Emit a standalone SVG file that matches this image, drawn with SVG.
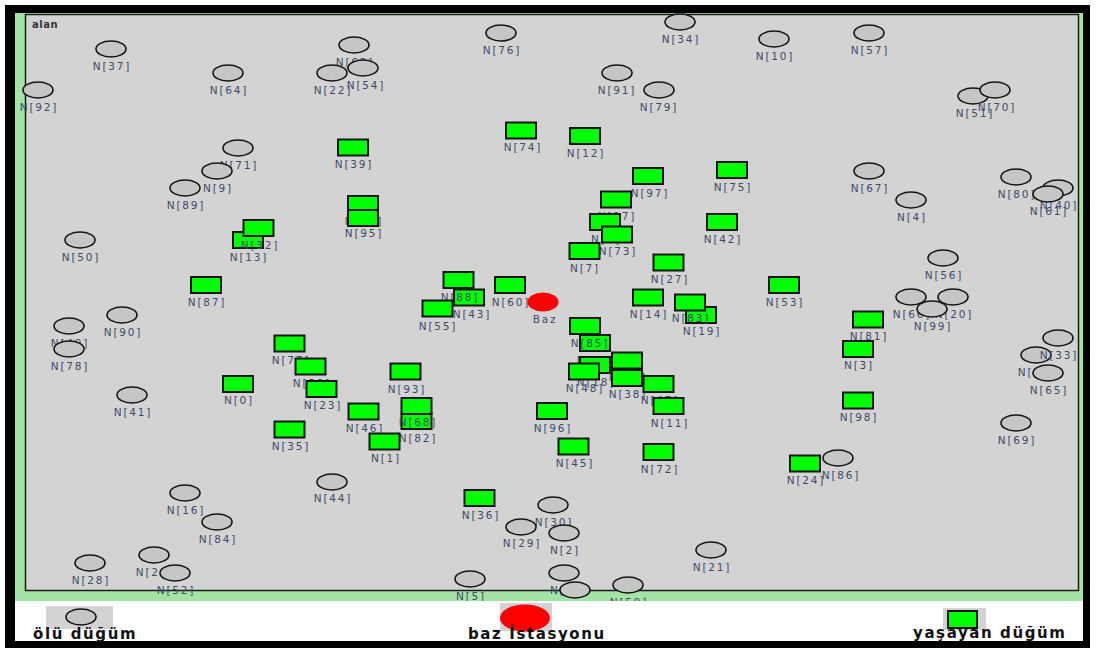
<svg xmlns="http://www.w3.org/2000/svg" width="1096" height="648" viewBox="0 0 1096 648">
<defs>
<style>
.d{fill:#c6c6c6;stroke:#151515;stroke-width:1.6}
.a{fill:#00ff00;stroke:#151515;stroke-width:2}
.t{font-family:"DejaVu Sans",sans-serif;font-size:10.5px;fill:#3e4a66;text-anchor:middle;letter-spacing:1.8px}
.lg{font-family:"DejaVu Sans",sans-serif;font-size:15px;font-weight:bold;fill:#111;letter-spacing:1.6px}
</style>
<clipPath id="field"><rect x="15" y="13" width="1068" height="588"/></clipPath>
</defs>
<rect x="0" y="0" width="1096" height="648" fill="#fff"/>
<rect x="5" y="5" width="1085" height="643" fill="#000"/>
<rect x="15" y="13" width="1068" height="588" fill="#a3e3a3"/>
<rect x="15" y="601" width="1068" height="40" fill="#fff"/>
<rect x="25.5" y="14.5" width="1053" height="576" fill="#d3d3d3" stroke="#1a1a1a" stroke-width="1.5"/>
<text x="32" y="28" font-family="DejaVu Sans, sans-serif" font-size="10" font-weight="bold" fill="#333" letter-spacing="0.5">alan</text>
<g id="connectors"></g>
<g id="nodes" clip-path="url(#field)">
<g id="n37"><ellipse class="d" cx="111" cy="49" rx="15" ry="8"/><text class="t" x="112" y="70">N[37]</text></g>
<g id="n92"><ellipse class="d" cx="38" cy="90" rx="15" ry="8"/><text class="t" x="39" y="111">N[92]</text></g>
<g id="n64"><ellipse class="d" cx="228" cy="73" rx="15" ry="8"/><text class="t" x="229" y="94">N[64]</text></g>
<g id="n71"><ellipse class="d" cx="238" cy="148" rx="15" ry="8"/><text class="t" x="239" y="169">N[71]</text></g>
<g id="n9"><ellipse class="d" cx="217" cy="171" rx="15" ry="8"/><text class="t" x="218" y="192">N[9]</text></g>
<g id="n89"><ellipse class="d" cx="185" cy="188" rx="15" ry="8"/><text class="t" x="186" y="209">N[89]</text></g>
<g id="n62"><ellipse class="d" cx="354" cy="45" rx="15" ry="8"/><text class="t" x="355" y="66">N[62]</text></g>
<g id="n22"><ellipse class="d" cx="332" cy="73" rx="15" ry="8"/><text class="t" x="333" y="94">N[22]</text></g>
<g id="n54"><ellipse class="d" cx="363" cy="68" rx="15" ry="8"/><text class="t" x="366" y="89">N[54]</text></g>
<g id="n76"><ellipse class="d" cx="501" cy="33" rx="15" ry="8"/><text class="t" x="502" y="54">N[76]</text></g>
<g id="n34"><ellipse class="d" cx="680" cy="22" rx="15" ry="8"/><text class="t" x="681" y="43">N[34]</text></g>
<g id="n10"><ellipse class="d" cx="774" cy="39" rx="15" ry="8"/><text class="t" x="775" y="60">N[10]</text></g>
<g id="n91"><ellipse class="d" cx="617" cy="73" rx="15" ry="8"/><text class="t" x="617" y="94">N[91]</text></g>
<g id="n79"><ellipse class="d" cx="659" cy="90" rx="15" ry="8"/><text class="t" x="659" y="111">N[79]</text></g>
<g id="n57"><ellipse class="d" cx="869" cy="33" rx="15" ry="8"/><text class="t" x="870" y="54">N[57]</text></g>
<g id="n51"><ellipse class="d" cx="973" cy="96" rx="15" ry="8"/><text class="t" x="975" y="117">N[51]</text></g>
<g id="n70"><ellipse class="d" cx="995" cy="90" rx="15" ry="8"/><text class="t" x="997" y="111">N[70]</text></g>
<g id="n67"><ellipse class="d" cx="869" cy="171" rx="15" ry="8"/><text class="t" x="870" y="192">N[67]</text></g>
<g id="n80"><ellipse class="d" cx="1016" cy="177" rx="15" ry="8"/><text class="t" x="1017" y="198">N[80]</text></g>
<g id="n40"><ellipse class="d" cx="1058" cy="188" rx="15" ry="8"/><text class="t" x="1059" y="209">N[40]</text></g>
<g id="n61"><ellipse class="d" cx="1048" cy="194" rx="15" ry="8"/><text class="t" x="1049" y="215">N[61]</text></g>
<g id="n4"><ellipse class="d" cx="911" cy="200" rx="15" ry="8"/><text class="t" x="912" y="221">N[4]</text></g>
<g id="n50"><ellipse class="d" cx="80" cy="240" rx="15" ry="8"/><text class="t" x="81" y="261">N[50]</text></g>
<g id="n56"><ellipse class="d" cx="943" cy="258" rx="15" ry="8"/><text class="t" x="944" y="279">N[56]</text></g>
<g id="n66"><ellipse class="d" cx="911" cy="297" rx="15" ry="8"/><text class="t" x="912" y="318">N[66]</text></g>
<g id="n20"><ellipse class="d" cx="953" cy="297" rx="15" ry="8"/><text class="t" x="954" y="318">N[20]</text></g>
<g id="n99"><ellipse class="d" cx="932" cy="309" rx="15" ry="8"/><text class="t" x="933" y="330">N[99]</text></g>
<g id="n90"><ellipse class="d" cx="122" cy="315" rx="15" ry="8"/><text class="t" x="123" y="336">N[90]</text></g>
<g id="n49"><ellipse class="d" cx="69" cy="326" rx="15" ry="8"/><text class="t" x="70" y="347">N[49]</text></g>
<g id="n78"><ellipse class="d" cx="69" cy="349" rx="15" ry="8"/><text class="t" x="70" y="370">N[78]</text></g>
<g id="n41"><ellipse class="d" cx="132" cy="395" rx="15" ry="8"/><text class="t" x="133" y="416">N[41]</text></g>
<g id="n15"><ellipse class="d" cx="1036" cy="355" rx="15" ry="8"/><text class="t" x="1037" y="376">N[15]</text></g>
<g id="n33"><ellipse class="d" cx="1058" cy="338" rx="15" ry="8"/><text class="t" x="1059" y="359">N[33]</text></g>
<g id="n65"><ellipse class="d" cx="1048" cy="373" rx="15" ry="8"/><text class="t" x="1049" y="394">N[65]</text></g>
<g id="n69"><ellipse class="d" cx="1016" cy="423" rx="15" ry="8"/><text class="t" x="1017" y="444">N[69]</text></g>
<g id="n44"><ellipse class="d" cx="332" cy="482" rx="15" ry="8"/><text class="t" x="333" y="502">N[44]</text></g>
<g id="n16"><ellipse class="d" cx="185" cy="493" rx="15" ry="8"/><text class="t" x="186" y="514">N[16]</text></g>
<g id="n84"><ellipse class="d" cx="217" cy="522" rx="15" ry="8"/><text class="t" x="218" y="543">N[84]</text></g>
<g id="n30"><ellipse class="d" cx="553" cy="505" rx="15" ry="8"/><text class="t" x="554" y="526">N[30]</text></g>
<g id="n29"><ellipse class="d" cx="521" cy="527" rx="15" ry="8"/><text class="t" x="522" y="547">N[29]</text></g>
<g id="n2"><ellipse class="d" cx="564" cy="533" rx="15" ry="8"/><text class="t" x="565" y="554">N[2]</text></g>
<g id="n21"><ellipse class="d" cx="711" cy="550" rx="15" ry="8"/><text class="t" x="712" y="571">N[21]</text></g>
<g id="n28"><ellipse class="d" cx="90" cy="563" rx="15" ry="8"/><text class="t" x="91" y="584">N[28]</text></g>
<g id="n26"><ellipse class="d" cx="154" cy="555" rx="15" ry="8"/><text class="t" x="155" y="576">N[26]</text></g>
<g id="n52"><ellipse class="d" cx="175" cy="573" rx="15" ry="8"/><text class="t" x="176" y="594">N[52]</text></g>
<g id="n5"><ellipse class="d" cx="470" cy="579" rx="15" ry="8"/><text class="t" x="471" y="600">N[5]</text></g>
<g id="n8"><ellipse class="d" cx="564" cy="573" rx="15" ry="8"/><text class="t" x="565" y="594">N[8]</text></g>
<g id="n31"><ellipse class="d" cx="575" cy="590" rx="15" ry="8"/><text class="t" x="576" y="611">N[31]</text></g>
<g id="n59"><ellipse class="d" cx="628" cy="585" rx="15" ry="8"/><text class="t" x="629" y="606">N[59]</text></g>

<g id="n39"><rect class="a" x="338" y="139.5" width="30" height="16"/><text class="t" x="354" y="168">N[39]</text></g>
<g id="n74"><rect class="a" x="506" y="122.5" width="30" height="16"/><text class="t" x="523" y="151">N[74]</text></g>
<g id="n12"><rect class="a" x="570" y="128" width="30" height="16"/><text class="t" x="586" y="157">N[12]</text></g>
<g id="n97"><rect class="a" x="633" y="168" width="30" height="16"/><text class="t" x="650" y="197">N[97]</text></g>
<g id="n75"><rect class="a" x="717" y="162" width="30" height="16"/><text class="t" x="733" y="191">N[75]</text></g>
<g id="n17"><rect class="a" x="601" y="191.5" width="30" height="16"/><text class="t" x="617" y="220">N[17]</text></g>
<g id="n6"><rect class="a" x="590" y="214" width="30" height="16"/><text class="t" x="606" y="243">N[6]</text></g>
<g id="n73"><rect class="a" x="602" y="226.5" width="30" height="16"/><text class="t" x="618" y="255">N[73]</text></g>
<g id="n7"><rect class="a" x="569.5" y="243" width="30" height="16"/><text class="t" x="585" y="272">N[7]</text></g>
<g id="n42"><rect class="a" x="707" y="214" width="30" height="16"/><text class="t" x="723" y="243">N[42]</text></g>
<g id="n63"><rect class="a" x="348" y="196" width="30" height="16"/><text class="t" x="364" y="225">N[63]</text></g>
<g id="n95"><rect class="a" x="348" y="210" width="30" height="16"/><text class="t" x="364" y="237">N[95]</text></g>
<g id="n13"><rect class="a" x="233" y="232" width="30" height="16"/><text class="t" x="249" y="261">N[13]</text></g>
<g id="n32"><rect class="a" x="243.5" y="220" width="30" height="16"/><text class="t" x="260" y="249">N[32]</text></g>
<g id="n27"><rect class="a" x="653.5" y="254.5" width="30" height="16"/><text class="t" x="670" y="283">N[27]</text></g>
<g id="n87"><rect class="a" x="191" y="277" width="30" height="16"/><text class="t" x="207" y="306">N[87]</text></g>
<g id="n53"><rect class="a" x="769" y="277" width="30" height="16"/><text class="t" x="785" y="306">N[53]</text></g>
<g id="n43"><rect class="a" x="454" y="289.5" width="30" height="16"/><text class="t" x="472" y="318">N[43]</text></g>
<g id="n88"><rect class="a" x="443.5" y="272" width="30" height="16"/><text class="t" x="460" y="301">N[88]</text></g>
<g id="n55"><rect class="a" x="422.5" y="300.5" width="30" height="16"/><text class="t" x="438" y="330">N[55]</text></g>
<g id="n60"><rect class="a" x="495" y="277" width="30" height="16"/><text class="t" x="511" y="306">N[60]</text></g>
<g id="baz"><ellipse cx="543" cy="302" rx="15.5" ry="9.5" fill="#ff0000"/><text class="t" x="545" y="323">Baz</text></g>
<g id="n14"><rect class="a" x="633" y="289.5" width="30" height="16"/><text class="t" x="649" y="318">N[14]</text></g>
<g id="n19"><rect class="a" x="686" y="307" width="30" height="16"/><text class="t" x="702" y="335">N[19]</text></g>
<g id="n83"><rect class="a" x="675" y="294.5" width="30" height="16"/><text class="t" x="691" y="322">N[83]</text></g>
<g id="n81"><rect class="a" x="853" y="311.5" width="30" height="16"/><text class="t" x="869" y="340">N[81]</text></g>
<g id="n3"><rect class="a" x="843" y="341" width="30" height="16"/><text class="t" x="859" y="369">N[3]</text></g>
<g id="n77"><rect class="a" x="274.5" y="335.5" width="30" height="16"/><text class="t" x="291" y="364">N[77]</text></g>
<g id="n58"><rect class="a" x="295.5" y="358.5" width="30" height="16"/><text class="t" x="312" y="387">N[58]</text></g>
<g id="n23"><rect class="a" x="306.5" y="381" width="30" height="16"/><text class="t" x="323" y="409">N[23]</text></g>
<g id="n93"><rect class="a" x="390.5" y="363.5" width="30" height="16"/><text class="t" x="407" y="393">N[93]</text></g>
<g id="n0"><rect class="a" x="223" y="376" width="30" height="16"/><text class="t" x="239" y="404">N[0]</text></g>
<g id="n25"><rect class="a" x="580" y="335" width="30" height="16"/><text class="t" x="596" y="364">N[25]</text></g>
<g id="n85"><rect class="a" x="570" y="318" width="30" height="16"/><text class="t" x="590" y="347">N[85]</text></g>
<g id="n18"><rect class="a" x="580" y="357" width="30" height="16"/><text class="t" x="596" y="386">N[18]</text></g>
<g id="n94"><rect class="a" x="612" y="352.5" width="30" height="16"/><text class="t" x="628" y="381">N[94]</text></g>
<g id="n48"><rect class="a" x="569" y="363.5" width="30" height="16"/><text class="t" x="585" y="392">N[48]</text></g>
<g id="n38"><rect class="a" x="612" y="370" width="30" height="16"/><text class="t" x="628" y="398">N[38]</text></g>
<g id="n47"><rect class="a" x="643.5" y="376" width="30" height="16"/><text class="t" x="660" y="404">N[47]</text></g>
<g id="n11"><rect class="a" x="653.5" y="398" width="30" height="16"/><text class="t" x="670" y="427">N[11]</text></g>
<g id="n96"><rect class="a" x="537" y="403" width="30" height="16"/><text class="t" x="553" y="432">N[96]</text></g>
<g id="n98"><rect class="a" x="843" y="392.5" width="30" height="16"/><text class="t" x="859" y="421">N[98]</text></g>
<g id="n46"><rect class="a" x="348.5" y="403.5" width="30" height="16"/><text class="t" x="365" y="432">N[46]</text></g>
<g id="n82"><rect class="a" x="401.5" y="413" width="30" height="16"/><text class="t" x="418" y="442">N[82]</text></g>
<g id="n68"><rect class="a" x="401.5" y="398" width="30" height="16"/><text class="t" x="418" y="426">N[68]</text></g>
<g id="n35"><rect class="a" x="274.5" y="421.5" width="30" height="16"/><text class="t" x="291" y="450">N[35]</text></g>
<g id="n1"><rect class="a" x="369.5" y="433.5" width="30" height="16"/><text class="t" x="386" y="462">N[1]</text></g>
<g id="n45"><rect class="a" x="558.5" y="438.5" width="30" height="16"/><text class="t" x="575" y="467">N[45]</text></g>
<g id="n72"><rect class="a" x="643.5" y="444" width="30" height="16"/><text class="t" x="660" y="473">N[72]</text></g>
<g id="n24"><rect class="a" x="790" y="455.5" width="30" height="16"/><text class="t" x="806" y="484">N[24]</text></g>
<g id="n86"><ellipse class="d" cx="838" cy="458" rx="15" ry="8"/><text class="t" x="841" y="479">N[86]</text></g>
<g id="n36"><rect class="a" x="464.5" y="490" width="30" height="16"/><text class="t" x="481" y="519">N[36]</text></g>
</g>
<g id="legend">
<g id="leg-dead"><rect x="46" y="606" width="67" height="23" fill="#d3d3d3"/><ellipse class="d" cx="81" cy="617" rx="15" ry="8"/><text class="lg" x="33" y="639" letter-spacing="1.8">ölü düğüm</text></g>
<g id="leg-base"><rect x="500" y="603" width="52" height="28" fill="#d3d3d3"/><ellipse cx="525" cy="618" rx="25" ry="13.5" fill="#ff0000"/><text class="lg" x="468" y="639" letter-spacing="1.2">baz İstasyonu</text></g>
<g id="leg-alive"><rect x="943" y="608" width="43" height="22" fill="#d3d3d3"/><rect class="a" x="948" y="611" width="29" height="17"/><text class="lg" x="913" y="638" letter-spacing="1.5">yaşayan düğüm</text></g>
</g>
</svg>
